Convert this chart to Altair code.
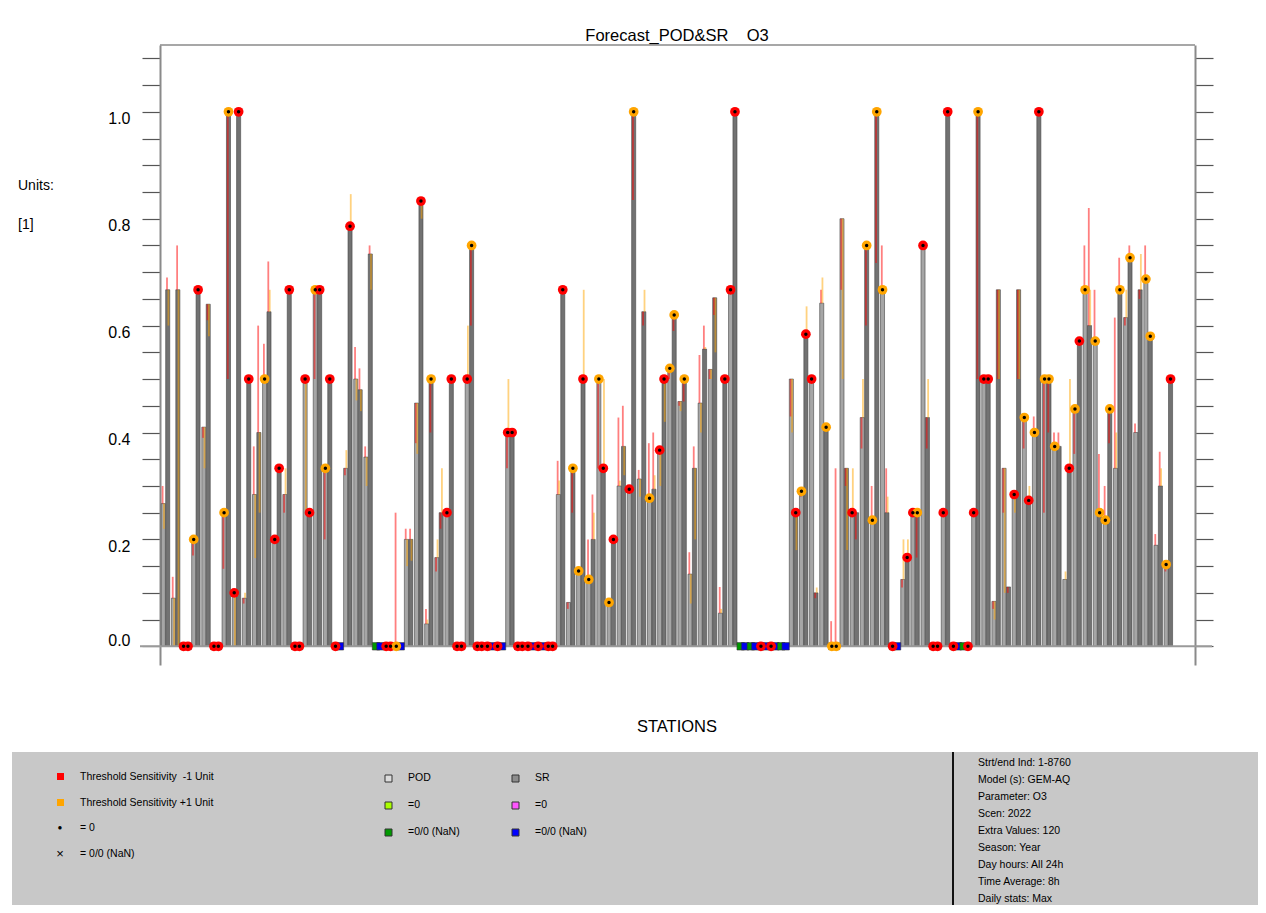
import altair as alt
import pandas as pd

FONT = "Liberation Sans"
NB = "\u00a0"

# ---------------- data ----------------
n_stations = 100
pod = [0.267, 0.09, 0, 0.20, 0.41, 0, 0.25, 0.10, 0.09, 0.284,
       0.5, 0.20, 0.284, 0, 0.5, 0.667, 0.333, 0, 0.333, 0.5,
       0.354, None, 0, 0, 0.20, 0.455, 0.042, 0.166, 0.25, 0,
       0.5, 0, 0, 0, 0.40, 0, 0, 0, 0, 0.284,
       0.082, 0.141, 0.125, 0.5, 0.082, 0.30, 0.294, 0.313, 0.277, 0.367,
       0.52, 0.458, 0.135, 0.455, 0.518, 0.062, 0.667, None, None, 0,
       0, None, 0.5, 0.29, 0.5, 0.642, 0, 0.80, 0.25, 0.428,
       0.236, 0.667, 0, 0.125, 0.25, 0.75, 0, 0.25, 0, None,
       0.25, 0.5, 0.084, 0.333, 0.284, 0.428, 0.40, 0.5, 0.374, 0.125,
       0.444, 0.667, 0.571, 0.236, 0.333, 0.615, 0.40, 0.687, 0.189, 0.153]
sr = [0.667, 0.667, 0, 0.667, 0.64, 0, 1.0, 1.0, 0.5, 0.40,
      0.626, 0.333, 0.667, 0, 0.25, 0.667, 0.5, None, 0.786, 0.48,
      0.734, None, 0, None, 0.20, 0.833, 0.5, 0.25, 0.5, 0,
      0.75, 0, None, None, 0.40, 0, None, None, 0, 0.667,
      0.333, 0.5, 0.2, 0.333, 0.2, 0.374, 1.0, 0.626, 0.294, 0.5,
      0.62, 0.5, 0.333, 0.556, 0.652, 0.5, 1.0, None, None, None,
      None, None, 0.25, 0.584, 0.10, 0.41, 0, 0.333, 0.25, 0.75,
      1.0, 0.25, None, 0.166, 0.25, 0.428, 0, 1.0, None, 0,
      1.0, 0.5, 0.667, 0.111, 0.667, 0.273, 1.0, 0.5, 0.374, 0.333,
      0.571, 0.60, 0.25, 0.444, 0.667, 0.727, 0.667, 0.58, 0.30, 0.5]
# marker at the top of each bar: r = Threshold -1 unit, o = Threshold +1 unit, - = none
pod_mark = list("--ro-ror--" "or-rroor--" "--ro----rr" "rrrrrrrrr-" "-oooo-r-or"
                "o-----r--r" "r--or-o-r-" "oor-rrrrr-" "rr--roooo-" "oooo---o-o")
sr_mark = list("--rr-rorr-" "-rrrrrr-r-" "--r--ro-rr" "or--rr--rr" "or-rr-o--r"
               "oo---rr---" "--rr-oo--o" "o--ro-rr-r" "or---rro-r" "r-oooo-o-r")
# threshold sensitivity values (-1 unit / +1 unit)
pod_minus = [0.30, 0.13, None, 0.17, 0.39, None, 0.145, None, 0.08, 0.374,
             0.566, None, 0.25, None, None, 0.5, 0.20, None, 0.32, 0.56,
             0.374, None, None, 0.25, 0.22, 0.38, 0.07, 0.14, None, None,
             None, None, None, None, 0.333, None, None, None, None, 0.347,
             0.07, None, 0.2, 0.333, None, 0.428, None, 0.33, 0.38, None,
             0.5, 0.45, 0.176, 0.545, 0.5, 0.111, None, None, None, None,
             None, None, 0.43, 0.28, None, 0.667, 0.047, 0.667, None, 0.37,
             0.3, 0.75, None, 0.11, None, None, None, None, None, None,
             None, None, 0.07, 0.25, None, 0.37, 0.43, 0.25, 0.4, None,
             0.36, 0.75, 0.667, 0.3, 0.615, 0.6, 0.417, 0.75, 0.21, 0.14]
pod_plus = [0.22, 0.0, None, None, 0.333, None, None, 0.0, 0.10, 0.165,
            None, None, 0.333, None, 0.25, None, None, None, 0.367, 0.46,
            0.30, None, None, None, 0.15, 0.36, 0.05, 0.20, None, None,
            0.6, None, None, None, 0.5, None, None, None, None, 0.31,
            None, None, None, None, None, 0.31, None, 0.28, None, 0.3,
            None, 0.44, 0.08, 0.4, 0.5, 0.07, None, None, None, None,
            None, None, 0.4, None, None, 0.69, None, 0.5, 0.333, 0.5,
            None, None, None, 0.2, None, None, None, None, None, None,
            None, None, 0.05, 0.1, 0.25, None, None, None, None, 0.14,
            None, None, None, None, 0.4, 0.667, None, None, None, None]
sr_minus = [0.69, 0.75, None, None, 0.61, None, 0.5, None, None, 0.60,
            0.72, None, None, None, None, None, None, None, None, 0.52,
            0.75, None, None, None, 0.22, None, 0.4, 0.22, None, None,
            0.6, None, None, None, None, None, None, None, None, None,
            0.25, None, 0.284, None, None, 0.45, 0.835, 0.6, 0.40, None,
            0.59, 0.458, 0.374, 0.6, 0.62, None, None, None, None, None,
            None, None, None, None, 0.09, None, 0.333, 0.3, 0.2, 0.6,
            0.717, 0.333, None, None, 0.166, 0.37, None, None, None, None,
            0.5, None, 0.5, 0.1, 0.5, None, None, 0.4, 0.4, None,
            None, 0.82, 0.36, 0.38, 0.727, 0.75, 0.65, None, 0.364, None]
sr_plus = [0.60, 0.0, None, None, 0.58, None, None, None, None, 0.25,
           0.667, None, None, None, None, None, None, None, 0.846, 0.44,
           0.667, None, None, None, 0.16, 0.8, None, 0.333, None, None,
           None, None, None, None, None, None, None, None, None, None,
           None, 0.667, 0.25, 0.5, None, 0.32, None, 0.667, 0.32, 0.42,
           None, None, 0.2, 0.56, 0.55, None, None, None, None, None,
           None, None, 0.18, 0.636, 0.11, None, None, 0.18, None, None,
           None, 0.28, None, 0.2, None, 0.5, None, None, None, None,
           None, None, 0.5, None, 0.5, 0.3, None, None, None, 0.5,
           None, 0.667, None, None, None, None, 0.734, None, 0.333, None]

y_ticks = [round(0.05 * k, 2) for k in range(23)]

info_lines = ["Strt/end Ind: 1-8760", "Model (s): GEM-AQ", "Parameter: O3", "Scen: 2022",
              "Extra Values: 120", "Season: Year", "Day hours: All 24h", "Time Average: 8h",
              "Daily stats: Max"]

# ---------------- styles ----------------
BAR_FILL = {"POD": "#a6a6a6", "SR": "#727272"}
ZERO_FILL = {"POD": "#99ff33", "SR": "#ff66ff"}
NAN_FILL = {"POD": "#009900", "SR": "#0000ee"}
THR = {"r": "#ff0000", "o": "#ffa500"}

# ---------------- tables ----------------
SR_OFF = 0.435
HALF = 0.2
bars, nans, zeros, marks, lines = [], [], [], [], []
for i in range(n_stations):
    for kind, vals, mk, mn, pl, off in (("POD", pod, pod_mark, pod_minus, pod_plus, 0.0),
                                        ("SR", sr, sr_mark, sr_minus, sr_plus, SR_OFF)):
        p = i + off
        v = vals[i]
        if v is None:
            nans.append({"pos": p, "v": 0, "col": NAN_FILL[kind]})
        elif v == 0:
            zeros.append({"pos": p, "v": 0, "col": ZERO_FILL[kind]})
        else:
            bars.append({"x1": p - HALF, "x2": p + HALF, "v": v, "col": BAR_FILL[kind]})
        base = v if v else 0
        if mn[i] is not None:
            lines.append({"pos": p - 0.07, "v": base, "e": mn[i], "col": THR["r"]})
        if pl[i] is not None:
            lines.append({"pos": p + 0.07, "v": base, "e": pl[i], "col": THR["o"]})
        if mk[i] != "-":
            marks.append({"pos": p, "v": base, "col": THR[mk[i]]})

bars = pd.DataFrame(bars)
nans = pd.DataFrame(nans)
zeros = pd.DataFrame(zeros)
marks = pd.DataFrame(marks)
lines = pd.DataFrame(lines)
ticks = pd.DataFrame({"t": y_ticks})

xs = alt.Scale(domain=[-0.326, 101.85], nice=False, zero=False)
ys = alt.Scale(domain=[-0.035, 1.125], nice=False, zero=False)

bar_layer = alt.Chart(bars).mark_rect(stroke="#454545", strokeWidth=0.6).encode(
    x=alt.X("x1:Q", scale=xs, axis=None), x2="x2:Q",
    y=alt.Y("v:Q", scale=ys, axis=None), y2=alt.datum(0),
    fill=alt.Fill("col:N", scale=None))

line_layer = alt.Chart(lines).mark_rule(strokeWidth=1.8, opacity=0.5).encode(
    x=alt.X("pos:Q", scale=xs, axis=None),
    y=alt.Y("v:Q", scale=ys, axis=None), y2="e:Q",
    color=alt.Color("col:N", scale=None))

zero_sq = alt.Chart(zeros).mark_square(size=45, stroke="#333333", strokeWidth=0.6, opacity=1).encode(
    x=alt.X("pos:Q", scale=xs, axis=None), y=alt.Y("v:Q", scale=ys, axis=None),
    fill=alt.Fill("col:N", scale=None))

nan_sq = alt.Chart(nans).mark_square(size=55, stroke="#333333", strokeWidth=0.6, opacity=1).encode(
    x=alt.X("pos:Q", scale=xs, axis=None), y=alt.Y("v:Q", scale=ys, axis=None),
    fill=alt.Fill("col:N", scale=None))

mark_layer = alt.Chart(marks).mark_circle(size=95, opacity=1).encode(
    x=alt.X("pos:Q", scale=xs, axis=None), y=alt.Y("v:Q", scale=ys, axis=None),
    color=alt.Color("col:N", scale=None))
dot_layer = alt.Chart(marks).mark_circle(size=12, color="black", opacity=1).encode(
    x=alt.X("pos:Q", scale=xs, axis=None), y=alt.Y("v:Q", scale=ys, axis=None))

label_expr = "abs(datum.value*5 - round(datum.value*5)) < 0.001 ? format(datum.value, '.1f') : ''"
left_axis = alt.Chart(ticks).mark_point(opacity=0).encode(
    y=alt.Y("t:Q", scale=ys, axis=alt.Axis(
        orient="left", values=y_ticks, labelExpr=label_expr, title=None, grid=False,
        tickSize=18, tickColor="#555555", tickWidth=1.2, domainColor="#8a8a8a", domainWidth=2,
        labelFont=FONT, labelFontSize=16, labelColor="black", labelPadding=12,
        labelOffset={"condition": {"test": "datum.value == 0", "value": -6}, "value": 7})))
right_axis = alt.Chart(ticks).mark_point(opacity=0).encode(
    y=alt.Y("t:Q", scale=ys, axis=alt.Axis(
        orient="right", values=y_ticks, labels=False, title=None, grid=False,
        tickSize=18, tickColor="#555555", tickWidth=1.2, domainColor="#8a8a8a", domainWidth=2)))

one = pd.DataFrame({"a": [0]})
OX, OY = 160, 45


def txt(s, px, py, size=11, align="left"):
    return alt.Chart(one).mark_text(text=s, align=align, baseline="middle", font=FONT,
                                    fontSize=size, color="black").encode(
        x=alt.value(px - OX), y=alt.value(py - OY))


def box(px1, py1, px2, py2, fill, stroke=None, sw=0.0):
    kw = {"fill": fill}
    if stroke:
        kw["stroke"] = stroke
        kw["strokeWidth"] = sw
    return alt.Chart(one).mark_rect(**kw).encode(
        x=alt.value(px1 - OX), x2=alt.value(px2 - OX), y=alt.value(py1 - OY), y2=alt.value(py2 - OY))


zero_line = alt.Chart(one).mark_rule(color="#9a9a9a", strokeWidth=2).encode(
    x=alt.value(-20), x2=alt.value(1052), y=alt.Y("datum_zero:Q", scale=ys, axis=None)
).transform_calculate(datum_zero="0")
top_line = alt.Chart(one).mark_rule(color="#8a8a8a", strokeWidth=1.5).encode(
    x=alt.value(0), x2=alt.value(1035), y=alt.value(0))

deco = [
    txt("Forecast_POD&SR" + NB * 4 + "O3", 677, 36, size=16.5, align="center"),
    txt("STATIONS", 677, 727, size=16.5, align="center"),
    txt("Units:", 18, 186, size=14),
    txt("[1]", 18, 225, size=14),
    box(12, 752, 1262, 920, "#c8c8c8"),
    box(952, 752, 954, 920, "#111111"),
    box(57, 773, 64, 780, "#ff0000"),
    txt("Threshold Sensitivity" + NB * 2 + "-1 Unit", 80, 777, size=10.5),
    box(57, 799, 64, 806, "#ffa500"),
    txt("Threshold Sensitivity +1 Unit", 80, 803, size=10.5),
    txt("\u25CF", 60, 828, size=8, align="center"),
    txt("= 0", 80, 828, size=10.5),
    txt("\u00D7", 60, 854, size=13, align="center"),
    txt("= 0/0 (NaN)", 80, 854, size=10.5),
    box(385, 775, 392, 782, "#dcdcdc", "#333333", 1),
    txt("POD", 408, 778, size=10.5),
    box(385, 802, 392, 809, "#aaff00", "#333333", 1),
    txt("=0", 408, 805, size=10.5),
    box(385, 829, 392, 836, "#009900", "#333333", 1),
    txt("=0/0 (NaN)", 408, 832, size=10.5),
    box(512, 775, 519, 782, "#8c8c8c", "#333333", 1),
    txt("SR", 535, 778, size=10.5),
    box(512, 802, 519, 809, "#ff55ff", "#333333", 1),
    txt("=0", 535, 805, size=10.5),
    box(512, 829, 519, 836, "#0000ff", "#333333", 1),
    txt("=0/0 (NaN)", 535, 832, size=10.5),
]
for k, s in enumerate(info_lines):
    deco.append(txt(s, 978, 763 + 17.0 * k, size=10.5))

chart = alt.layer(
    *deco[:6], top_line, left_axis, right_axis, bar_layer, line_layer, zero_line,
    zero_sq, nan_sq, mark_layer, dot_layer, *deco[6:]
).resolve_axis(y="independent").properties(
    width=1035, height=620,
    autosize=alt.AutoSizeParams(type="none"),
    padding={"left": 152, "top": 37, "right": 63, "bottom": 240},
).configure_view(stroke=None)

chart.save("out.html", embed_options={"renderer": "svg", "actions": False})
